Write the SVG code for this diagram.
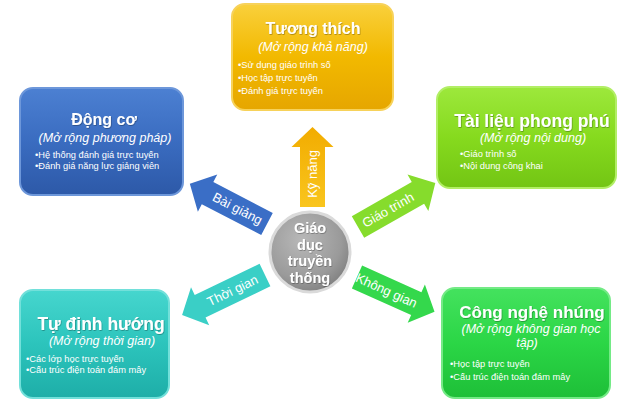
<svg xmlns="http://www.w3.org/2000/svg" width="617" height="404" viewBox="0 0 617 404">
<defs>
<linearGradient id="gYellow" x1="0" y1="0" x2="0" y2="1"><stop offset="0" stop-color="#F9D03C"/><stop offset="0.5" stop-color="#F2B900"/><stop offset="1" stop-color="#E6A600"/></linearGradient>
<linearGradient id="gBlue" x1="0" y1="0" x2="0" y2="1"><stop offset="0" stop-color="#4C80D2"/><stop offset="0.5" stop-color="#3A6CC0"/><stop offset="1" stop-color="#2D59A8"/></linearGradient>
<linearGradient id="gLime" x1="0" y1="0" x2="0" y2="1"><stop offset="0" stop-color="#9DE83C"/><stop offset="0.5" stop-color="#86DA1E"/><stop offset="1" stop-color="#73C514"/></linearGradient>
<linearGradient id="gTeal" x1="0" y1="0" x2="0" y2="1"><stop offset="0" stop-color="#46D6CE"/><stop offset="0.5" stop-color="#2CC4BC"/><stop offset="1" stop-color="#1EAEA8"/></linearGradient>
<linearGradient id="gGreen" x1="0" y1="0" x2="0" y2="1"><stop offset="0" stop-color="#44E25E"/><stop offset="0.5" stop-color="#2BD646"/><stop offset="1" stop-color="#1EBF38"/></linearGradient>
<radialGradient id="gGray" cx="0.4" cy="0.35" r="0.7"><stop offset="0" stop-color="#B8B8B8"/><stop offset="0.7" stop-color="#9A9A9A"/><stop offset="1" stop-color="#7E7E7E"/></radialGradient>
<linearGradient id="aYellow" x1="0" y1="0" x2="1" y2="0"><stop offset="0" stop-color="#F9C51E"/><stop offset="1" stop-color="#F2AC00"/></linearGradient>
<filter id="ts" x="-10%" y="-20%" width="120%" height="140%"><feDropShadow dx="0.6" dy="0.8" stdDeviation="0.5" flood-color="#000" flood-opacity="0.35"/></filter>
<style>
.box{stroke-width:2}
.t{font-family:"Liberation Sans",Arial,sans-serif;fill:#fff}
.title{font-weight:bold;text-anchor:middle;filter:url(#ts)}
.it{font-style:italic;text-anchor:middle;font-size:12.5px}
.bul{font-size:9.3px}
.arr{stroke:none}
.al{font-size:13px;text-anchor:middle;dominant-baseline:central}
.ct{font-size:14.5px;font-weight:bold;text-anchor:middle;filter:url(#ts)}
</style>
</defs>

<g id="connectors">
<g id="arrow-ky-nang">
<path class="arr" fill="url(#aYellow)" transform="translate(312.5,207) rotate(-90)" d="M0,-12.5 L60,-12.5 L60,-21 L80,0 L60,21 L60,12.5 L0,12.5 Z"/>
<text class="t al" transform="translate(312.5,174) rotate(-90)">Kỹ năng</text>
</g>
<g id="arrow-bai-giang">
<path class="arr" fill="#3A6EC6" transform="translate(267,224) rotate(207.5)" d="M0,-12.5 L67,-12.5 L67,-21 L87,0 L67,21 L67,12.5 L0,12.5 Z"/>
<text class="t al" transform="translate(237.5,208.5) rotate(27.5)">Bài giảng</text>
</g>
<g id="arrow-giao-trinh">
<path class="arr" fill="#86DC2C" transform="translate(358,227) rotate(-29.7)" d="M0,-12.5 L69,-12.5 L69,-21 L89,0 L69,21 L69,12.5 L0,12.5 Z"/>
<text class="t al" transform="translate(388,210) rotate(-29.7)">Giáo trình</text>
</g>
<g id="arrow-thoi-gian">
<path class="arr" fill="#3ACFC6" transform="translate(265,275) rotate(154.3)" d="M0,-12.5 L72,-12.5 L72,-21 L92,0 L72,21 L72,12.5 L0,12.5 Z"/>
<text class="t al" transform="translate(232.5,290.5) rotate(-25.7)">Thời gian</text>
</g>
<g id="arrow-khong-gian">
<path class="arr" fill="#34D84C" transform="translate(357,277) rotate(24.2)" d="M0,-12.5 L65,-12.5 L65,-21 L85,0 L65,21 L65,12.5 L0,12.5 Z"/>
<text class="t al" transform="translate(386.5,290.5) rotate(24.2)">Không gian</text>
</g>
</g>

<g id="node-center">
<circle cx="310" cy="252" r="40" fill="url(#gGray)" stroke="#DADADA" stroke-width="3"/>
<text class="t ct" x="310" y="233">Giáo</text>
<text class="t ct" x="310" y="249.5">dục</text>
<text class="t ct" x="310" y="266">truyền</text>
<text class="t ct" x="310" y="282.5">thống</text>
</g>

<g id="node-tuong-thich">
<rect class="box" x="232" y="4" width="161" height="106" rx="13" fill="url(#gYellow)" stroke="#F7D25A"/>
<text class="t title" x="313" y="34" font-size="16">Tương thích</text>
<text class="t it" x="313" y="51">(Mở rộng khả năng)</text>
<text class="t bul" x="238" y="68">•Sử dụng giáo trình số</text>
<text class="t bul" x="238" y="81">•Học tập trực tuyến</text>
<text class="t bul" x="238" y="94">•Đánh giá trực tuyến</text>
</g>

<g id="node-dong-co">
<rect class="box" x="20" y="88" width="163" height="107" rx="13" fill="url(#gBlue)" stroke="#6D97DA"/>
<text class="t title" x="104" y="125" font-size="16">Động cơ</text>
<text class="t it" x="105" y="142">(Mở rộng phương pháp)</text>
<text class="t bul" x="35" y="158">•Hệ thống đánh giá trực tuyến</text>
<text class="t bul" x="35" y="169">•Đánh giá năng lực giảng viên</text>
</g>

<g id="node-tai-lieu">
<rect class="box" x="437" y="87" width="179" height="101" rx="13" fill="url(#gLime)" stroke="#B2EE66"/>
<text class="t title" x="532" y="127" font-size="17.5">Tài liệu phong phú</text>
<text class="t it" x="533" y="142">(Mở rộng nội dung)</text>
<text class="t bul" x="460" y="157">•Giáo trình số</text>
<text class="t bul" x="460" y="169">•Nội dung công khai</text>
</g>

<g id="node-tu-dinh-huong">
<rect class="box" x="20" y="290" width="149" height="108" rx="13" fill="url(#gTeal)" stroke="#72E0DA"/>
<text class="t title" x="101" y="330" font-size="17.5">Tự định hướng</text>
<text class="t it" x="102" y="345" font-size="13">(Mở rộng thời gian)</text>
<text class="t bul" x="26" y="362">•Các lớp học trực tuyến</text>
<text class="t bul" x="26" y="373">•Cấu trúc điện toán đám mây</text>
</g>

<g id="node-cong-nghe">
<rect class="box" x="442" y="288" width="168" height="110" rx="13" fill="url(#gGreen)" stroke="#74EA86"/>
<text class="t title" x="532" y="318" font-size="17">Công nghệ nhúng</text>
<text class="t it" x="531" y="333" font-size="13">(Mở rộng không gian học</text>
<text class="t it" x="527" y="347" font-size="13">tập)</text>
<text class="t bul" x="450" y="367">•Học tập trực tuyến</text>
<text class="t bul" x="450" y="380">•Cấu trúc điện toán đám mây</text>
</g>
</svg>
